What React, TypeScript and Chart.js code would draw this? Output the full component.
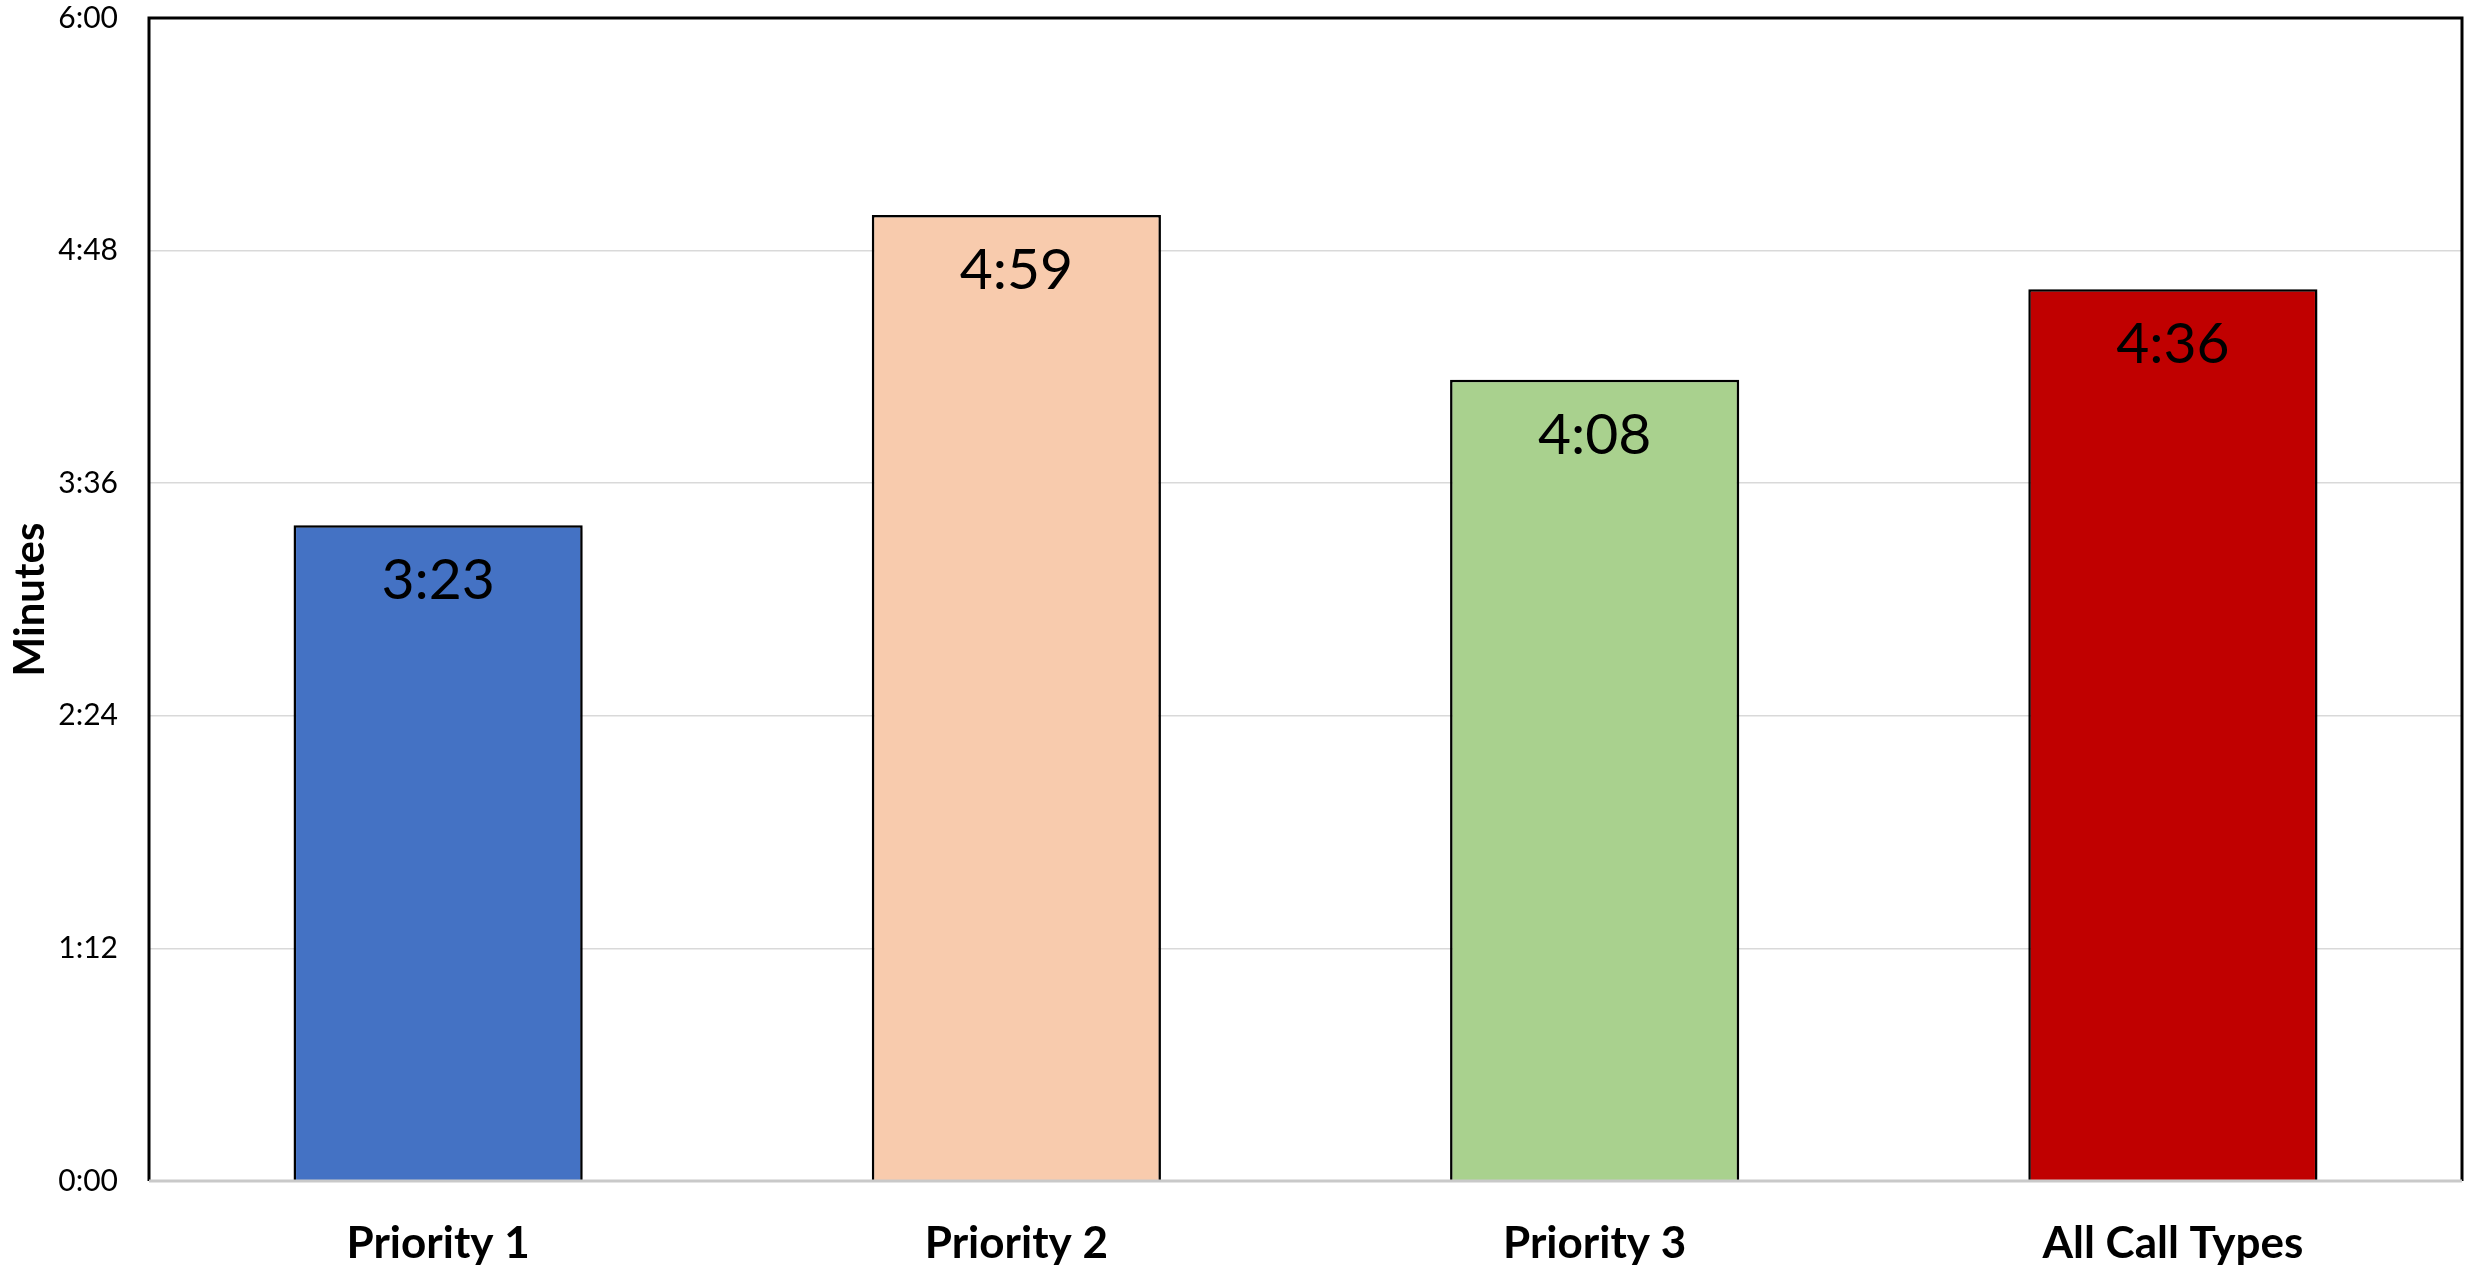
import React, { useEffect, useRef } from "react";
import { Chart, registerables } from "chart.js";

Chart.register(...registerables);

const categories = ["Priority 1", "Priority 2", "Priority 3", "All Call Types"];
const valuesSeconds = [203, 299, 248, 276];
const barColors = ["#4472C4", "#F8CBAD", "#A9D18E", "#C00000"];
const yTickMax = 360;
const yTickStep = 72;
const yAxisTitle = "Minutes";

const fmt = (s: number) => {
  const m = Math.floor(s / 60);
  const r = Math.round(s - m * 60);
  return `${m}:${r < 10 ? "0" : ""}${r}`;
};

const FONT = "Lato, 'Open Sans', sans-serif";

const shadowPlugin = {
  id: "barShadow",
  beforeDatasetsDraw(chart: any) {
    const ctx = chart.ctx;
    ctx.save();
    ctx.shadowColor = "rgba(0,0,0,0.35)";
    ctx.shadowBlur = 8;
    ctx.shadowOffsetX = 2;
    ctx.shadowOffsetY = 2;
  },
  afterDatasetsDraw(chart: any) {
    chart.ctx.restore();
    const ctx = chart.ctx;
    const meta = chart.getDatasetMeta(0);
    ctx.save();
    ctx.font = `57px ${FONT}`;
    ctx.fillStyle = "#000";
    ctx.textAlign = "center";
    ctx.textBaseline = "alphabetic";
    meta.data.forEach((bar: any, i: number) => {
      ctx.fillText(fmt(valuesSeconds[i]), bar.x, bar.y + 74);
    });
    ctx.restore();
  },
  afterDraw(chart: any) {
    const { ctx, chartArea } = chart;
    ctx.save();
    ctx.strokeStyle = "#000";
    ctx.lineWidth = 3;
    ctx.beginPath();
    ctx.moveTo(chartArea.left, chartArea.bottom);
    ctx.lineTo(chartArea.left, chartArea.top);
    ctx.lineTo(chartArea.right, chartArea.top);
    ctx.lineTo(chartArea.right, chartArea.bottom);
    ctx.stroke();
    ctx.strokeStyle = "#C9C9C9";
    ctx.beginPath();
    ctx.moveTo(chartArea.left, chartArea.bottom);
    ctx.lineTo(chartArea.right, chartArea.bottom);
    ctx.stroke();
    ctx.restore();
  },
};

export default function App() {
  const ref = useRef<HTMLCanvasElement | null>(null);
  useEffect(() => {
    if (!ref.current) return;
    const chart = new Chart(ref.current, {
      type: "bar",
      data: {
        labels: categories,
        datasets: [
          {
            data: valuesSeconds,
            backgroundColor: barColors,
            borderColor: "#000",
            borderWidth: 2.5,
            barPercentage: 0.5,
            categoryPercentage: 1,
          },
        ],
      },
      options: {
        animation: false,
        responsive: true,
        maintainAspectRatio: false,
        devicePixelRatio: 1,
        layout: { padding: { left: 0, top: 18, right: 9, bottom: 0 } },
        plugins: { legend: { display: false }, tooltip: { enabled: false } },
        scales: {
          x: {
            grid: { display: false, drawTicks: false },
            border: { display: false },
            ticks: {
              color: "#000",
              padding: 36,
              font: { family: FONT, size: 44, weight: "bold" },
            },
            afterFit: (s: any) => {
              s.height = 87;
              s.paddingLeft = 0;
              s.paddingRight = 0;
            },
          },
          y: {
            min: 0,
            max: yTickMax,
            grid: { color: "#D9D9D9", lineWidth: 1.5, drawTicks: false },
            border: { display: false },
            ticks: {
              stepSize: yTickStep,
              color: "#000",
              padding: 31,
              font: { family: FONT, size: 30 },
              callback: (v: any) => fmt(Number(v)),
            },
            title: {
              display: true,
              text: yAxisTitle,
              color: "#000",
              font: { family: FONT, size: 42, weight: "bold" },
              padding: { top: 5, bottom: 0 },
            },
            afterFit: (s: any) => {
              s.width = 149;
              s.paddingTop = 0;
              s.paddingBottom = 0;
            },
          },
        },
      },
      plugins: [shadowPlugin],
    });
    return () => chart.destroy();
  }, []);
  return (
    <div style={{ position: "fixed", left: 0, top: 0, width: 2471, height: 1268, background: "#fff" }}>
      <canvas ref={ref} />
    </div>
  );
}
